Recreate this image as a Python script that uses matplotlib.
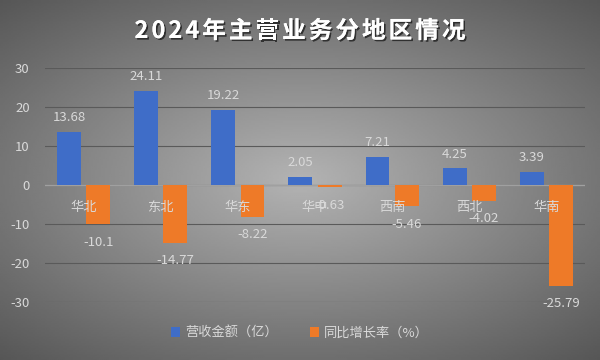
import matplotlib
matplotlib.use("Agg")
import matplotlib.pyplot as plt
import matplotlib.patheffects as pe
import numpy as np

plt.rcParams['font.family'] = ['Noto Sans CJK SC', 'DejaVu Sans']

categories = ['华北', '东北', '华东', '华中', '西南', '西北', '华南']
revenue = [13.68, 24.11, 19.22, 2.05, 7.21, 4.25, 3.39]
growth = [-10.1, -14.77, -8.22, -0.63, -5.46, -4.02, -25.79]
revenue_labels = ['13.68', '24.11', '19.22', '2.05', '7.21', '4.25', '3.39']
growth_labels = ['-10.1', '-14.77', '-8.22', '-0.63', '-5.46', '-4.02', '-25.79']
yticks = [-30, -20, -10, 0, 10, 20, 30]
series_names = ['营收金额（亿）', '同比增长率（%）']
title = '2024年主营业务分地区情况'

W, H = 600, 360
fig = plt.figure(figsize=(6, 3.6), dpi=100)

# radial gradient background
bg = fig.add_axes([0, 0, 1, 1], zorder=-10)
yy, xx = np.mgrid[-1:1:200j, -1:1:300j]
r = np.sqrt((xx * 0.9) ** 2 + (yy * 1.0) ** 2)
bg.imshow(-r, cmap='gray', vmin=-2.6, vmax=1.1, aspect='auto', extent=[0, 1, 0, 1])
bg.set_axis_off()

ax = fig.add_axes([45 / W, 1 - 302 / H, 540 / W, 234 / H])
ax.set_facecolor('none')

x = np.arange(len(categories))
w = 0.31
off = 0.19
blue = '#3F6DC8'
orange = '#EE7A28'
ax.bar(x - off, revenue, w, color=blue, zorder=3, label=series_names[0])
ax.bar(x + off, growth, w, color=orange, zorder=3, label=series_names[1])

txtc = '#D9D9D9'
for i in range(len(categories)):
    ax.text(x[i] - off, revenue[i] + 2.0, revenue_labels[i], ha='center', va='bottom',
            color=txtc, fontsize=9.5, zorder=5)
    ax.text(x[i] + off, growth[i] - 2.9, growth_labels[i], ha='center', va='top',
            color=txtc, fontsize=9.5, zorder=5)
    ax.text(x[i], -4.1, categories[i], ha='center', va='top', color=txtc,
            fontsize=9.5, zorder=4)

ax.set_xlim(-0.5, len(categories) - 0.5)
ax.set_ylim(-30, 30)
ax.set_yticks(yticks)
ax.set_yticklabels([str(t) for t in yticks])
ax.tick_params(axis='y', length=0, colors=txtc, labelsize=9.5, pad=11)
ax.set_xticks([])
ax.grid(axis='y', color='#5A5A5A', linewidth=0.8, zorder=0)
ax.axhline(0, color='#A0A0A0', linewidth=1.0, zorder=2)
for s in ax.spines.values():
    s.set_visible(False)

# title drawn with letter spacing
fig.canvas.draw()
renderer = fig.canvas.get_renderer()
fs = 17
spacing = 3.0  # px
shadow = [pe.withSimplePatchShadow(offset=(1.2, -1.2), shadow_rgbFace='black', alpha=0.6), pe.Normal()]
widths = []
for ch in title:
    t = fig.text(0, 0, ch, fontsize=fs, fontweight='bold')
    bb = t.get_window_extent(renderer)
    widths.append(bb.width)
    t.remove()
total = sum(widths) + spacing * (len(title) - 1)
xpos = W / 2 - total / 2
for ch, wd in zip(title, widths):
    fig.text(xpos / W, 1 - 31 / H, ch, ha='left', va='center', color='white',
             fontsize=fs, fontweight='bold', path_effects=shadow)
    xpos += wd + spacing

leg = fig.legend(loc='center', bbox_to_anchor=(0.5, 1 - 333 / H), ncol=2, frameon=False,
                 fontsize=9.5, handlelength=0.7, handleheight=0.7, columnspacing=2.4,
                 handletextpad=0.4)
for t in leg.get_texts():
    t.set_color(txtc)

fig.savefig('out.png', dpi=100)
